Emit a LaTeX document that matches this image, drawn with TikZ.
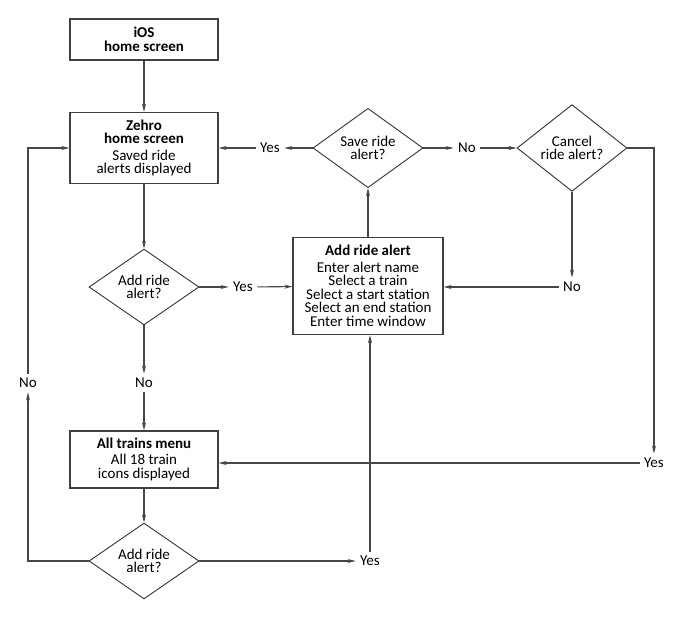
\documentclass[tikz,border=0pt]{standalone}
\usepackage{fontspec}
\setmainfont{Carlito}
\usetikzlibrary{shapes.geometric,arrows.meta}
\begin{document}
\begin{tikzpicture}[x=1pt,y=-1pt,
  line width=1.1pt,
  every node/.style={font=\fontsize{15}{13.5}\selectfont, text=black},
  box/.style={draw=black!75, line width=1.4pt, rectangle, align=center, inner sep=0pt},
  dec/.style={draw=black!80, line width=0.9pt, diamond, align=center, inner sep=0pt, minimum width=110pt, minimum height=70pt},
  lbl/.style={inner sep=4pt},
  arr/.style={draw=black!72, -{Stealth[length=8pt,width=4pt]}},
]
\useasboundingbox (0,0) rectangle (685,616);

% boxes
\node[box, minimum width=148pt, minimum height=41pt] (ios) at (144,39.5) {\textbf{iOS}\\\textbf{home screen}};
\node[box, minimum width=148pt, minimum height=71pt] (zehro) at (144,148) {\textbf{Zehro}\\\textbf{home screen}\\[3pt]Saved ride\\alerts displayed};
\node[box, minimum width=150pt, minimum height=97pt, font=\fontsize{15}{13.5}\selectfont] (add) at (368,286) {\textbf{Add ride alert}\\[3pt]Enter alert name\\Select a train\\Select a start station\\Select an end station\\Enter time window};
\node[box, minimum width=148pt, minimum height=57pt, font=\fontsize{15}{14}\selectfont] (all) at (144,459.5) {\textbf{All trains menu}\\[2pt]All 18 train\\icons displayed};

% decisions
\node[dec] (save) at (368,148) {Save ride\\alert?};
\node[dec] (cancel) at (572,148) {Cancel\\ride alert?};
\node[dec] (d1) at (144,287) {Add ride\\alert?};
\node[dec] (d2) at (144,561) {Add ride\\alert?};

% labels
\node[lbl] (yes1) at (270,148) {Yes};
\node[lbl] (no1) at (467,148) {No};
\node[lbl] (yes2) at (243,287) {Yes};
\node[lbl] (no2) at (572,287) {No};
\node[lbl] (no3) at (144,383) {No};
\node[lbl] (noL) at (28,383) {No};
\node[lbl] (yesR) at (654,463) {Yes};
\node[lbl] (yesB) at (370,561) {Yes};

% connectors
\draw[arr] (ios) -- (zehro);
\draw[arr] (zehro) -- (d1);
\draw[arr] (d1) -- (yes2);
\draw[arr] (yes2) -- (add);
\draw[arr] (d1) -- (no3);
\draw[arr] (no3) -- (all);
\draw[arr] (all) -- (d2);
\draw[arr] (d2.west) -| (noL);
\draw[arr] (noL) |- (zehro);
\draw[arr] (d2) -- (yesB);
\draw[arr] (yesB) -- (yesB |- add.south);
\draw[arr] (add) -- (save);
\draw[arr] (save) -- (yes1);
\draw[arr] (yes1) -- (zehro);
\draw[arr] (save) -- (no1);
\draw[arr] (no1) -- (cancel);
\draw[arr] (cancel) -- (no2);
\draw[arr] (no2) -- (no2 -| add.east);
\draw[arr] (cancel.east) -| (yesR);
\draw[arr] (yesR) -- (yesR -| all.east);
\end{tikzpicture}
\end{document}
